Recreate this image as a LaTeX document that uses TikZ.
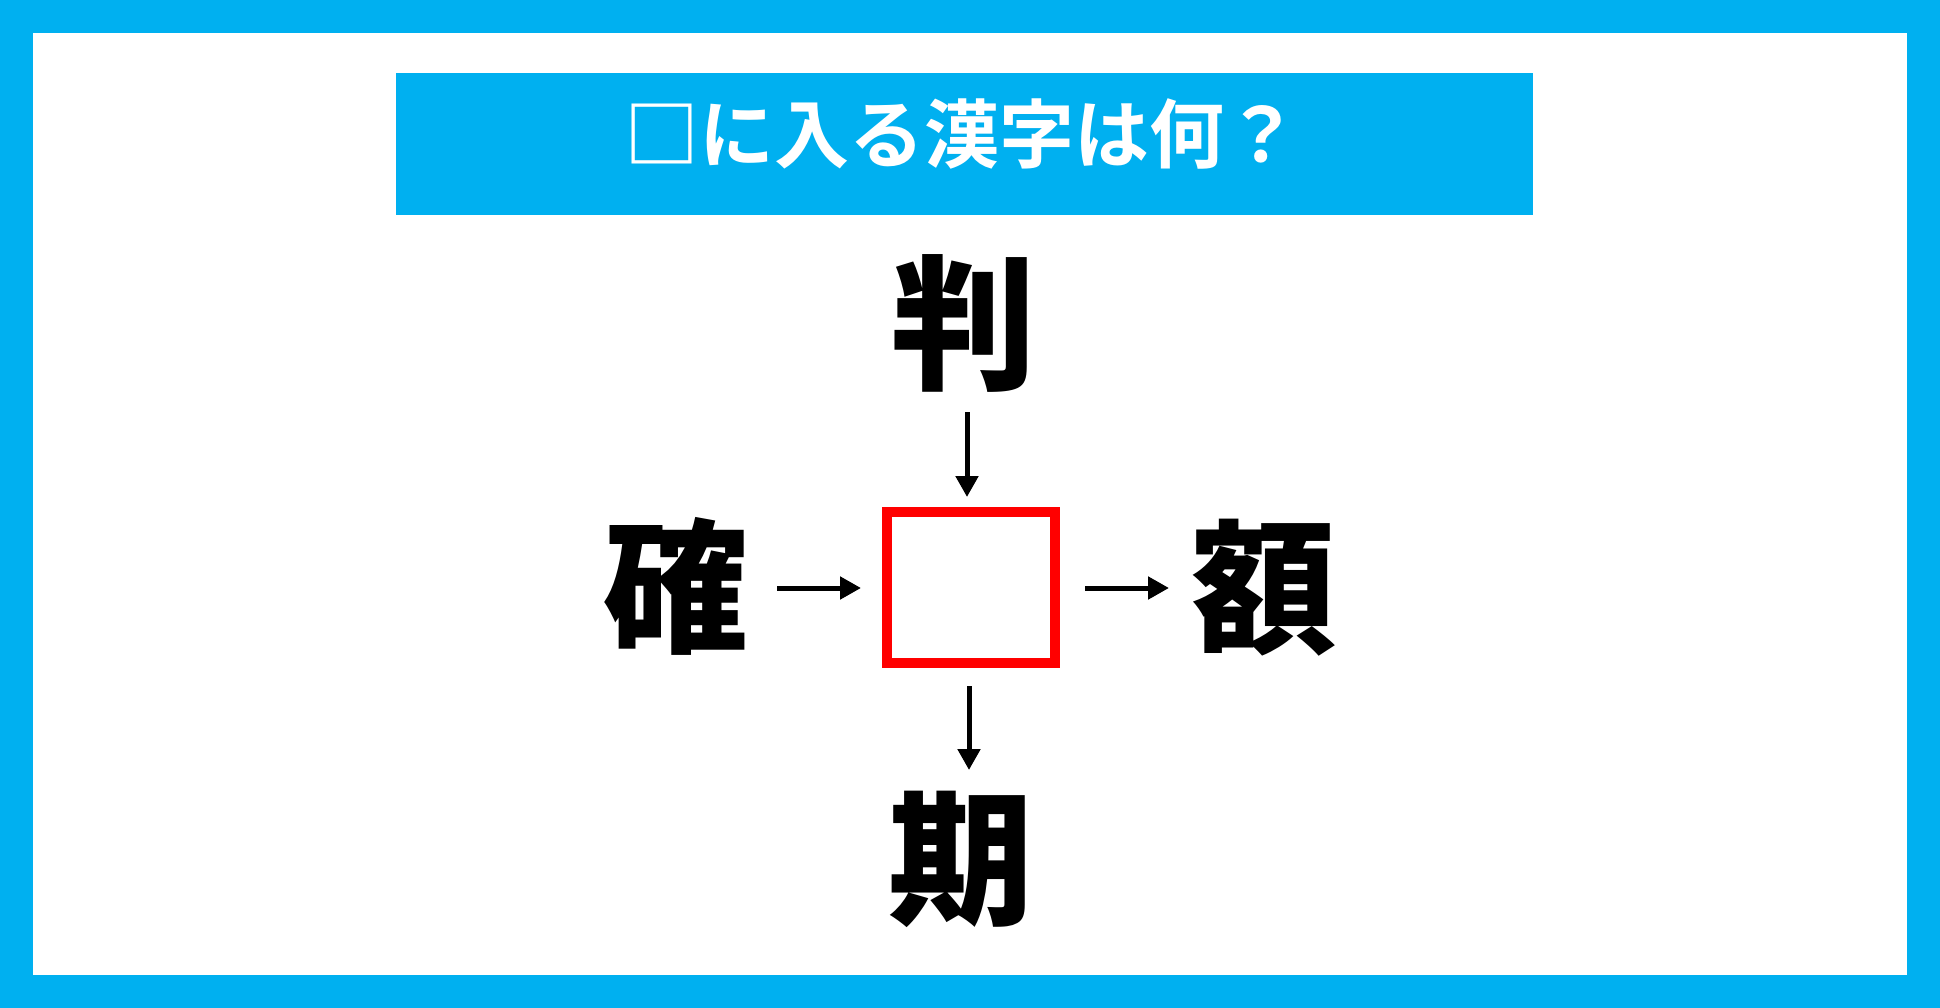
\documentclass[tikz,border=0pt]{standalone}
\usepackage{fontspec}
\newfontfamily\cjk{Noto Sans CJK JP}
\newfontfamily\cjktitle{Noto Sans CJK JP Bold}
\usetikzlibrary{arrows.meta}
\definecolor{frameblue}{RGB}{0,176,240}
\definecolor{boxred}{RGB}{255,0,0}
\tikzset{
  kanji/.style={inner sep=0pt, anchor=center, font=\cjk\bfseries\fontsize{145}{145}\selectfont, text=black},
  conn/.style={line width=5pt, draw=black, -{Triangle[length=21pt,width=22pt]}},
}
\begin{document}
\begin{tikzpicture}[x=1pt,y=-1pt]
\useasboundingbox (0,0) rectangle (1940,1008);
\fill[frameblue] (0,0) rectangle (1940,1008);
\fill[white] (33,33) rectangle (1907,975);
% banner
\fill[frameblue] (396,73) rectangle (1533,215);
\node[inner sep=0pt, text=white, font=\cjktitle\fontsize{75}{75}\selectfont] (title) at (962,134) {□に入る漢字は何？};
% kanji
\node[kanji] (top) at (964,323) {判};
\node[kanji] (left) at (676,586) {確};
\node[kanji] (right) at (1264,588) {額};
\node[kanji] (bottom) at (961,859) {期};
% red box
\node[draw=boxred, line width=10.5pt, minimum width=168pt, minimum height=151pt, inner sep=0pt] (box) at (971,587.5) {};
% arrow endpoints
\coordinate (a1s) at (967,412);
\coordinate (a1e) at (967,497);
\coordinate (a2s) at (777,588);
\coordinate (a2e) at (861,588);
\coordinate (a3s) at (1085,588);
\coordinate (a3e) at (1169,588);
\coordinate (a4s) at (969,686);
\coordinate (a4e) at (969,770);
\draw[conn] (a1s) -- (a1e);
\draw[conn] (a2s) -- (a2e);
\draw[conn] (a3s) -- (a3e);
\draw[conn] (a4s) -- (a4e);
\end{tikzpicture}
\end{document}
